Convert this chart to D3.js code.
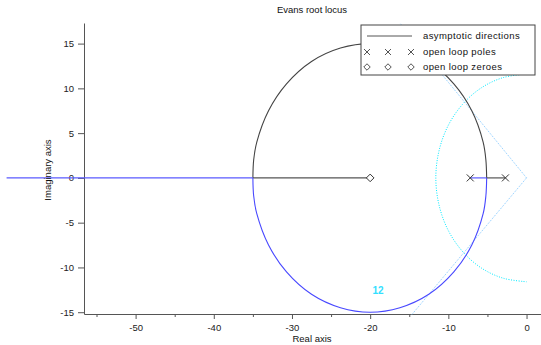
<!DOCTYPE html>
<html>
<head>
<meta charset="utf-8">
<script src="https://cdnjs.cloudflare.com/ajax/libs/d3/7.8.5/d3.min.js"></script>
<style>
  body { margin: 0; background: #fff; }
  text { font-family: "Liberation Sans", Arial, sans-serif; }
</style>
</head>
<body>
<div id="chart"></div>
<script>

var width = 541, height = 345;

// open loop poles / zeroes (real, imag)
var poles = [[-7.2, 0], [-2.7, 0]];
var zeroes = [[-20, 0]];

// branch 1 (black): pole -> break away, upper arc, break in -> zero
var upperArc = [[-5.1, 0], [-5.2, 2], [-5.55, 4], [-7, 7.5], [-9.3, 10.5], [-12.5, 13], [-16.2, 14.5], [-20, 15],
  [-23.8, 14.5], [-27.5, 13], [-30.7, 10.5], [-33, 7.5], [-34.5, 4], [-34.9, 2], [-35, 0]];
// branch 2 (blue): pole -> break away, lower arc, break in -> far left
var lowerArc = [[-5.1, 0], [-5.2, -2], [-5.55, -4], [-7, -7.5], [-9.3, -10.5], [-12.5, -13], [-16.2, -14.5], [-20, -15],
  [-23.8, -14.5], [-27.5, -13], [-30.7, -10.5], [-33, -7.5], [-34.5, -4], [-34.9, -2], [-35, 0]];
var branch1Real = [[[-2.7, 0], [-5.1, 0]], [[-35, 0], [-20, 0]]];
var branch2Real = [[[-7.2, 0], [-5.1, 0]], [[-35, 0], [-66.5, 0]]];

// grid: natural frequency half circle and damping lines
var wnCircle = [[0, 11.6], [-3, 11.2], [-5.8, 10.05], [-8.2, 8.2], [-10.05, 5.8], [-11.2, 3], [-11.6, 0],
  [-11.2, -3], [-10.05, -5.8], [-8.2, -8.2], [-5.8, -10.05], [-3, -11.2], [0, -11.6]];
var dampLines = [[[0, 0], [-16.2, 17.3]], [[0, 0], [-14.7, -15.3]]];
var wnLabel = {text: "12", x: -19, y: -12.6};

var xTicks = [-50, -40, -30, -20, -10, 0];
var xMinor = [-55, -45, -35, -25, -15, -5];
var yTicks = [-15, -10, -5, 0, 5, 10, 15];

var legendItems = ["asymptotic directions", "open loop poles", "open loop zeroes"];

var svg = d3.select("#chart").append("svg")
  .attr("width", width)
  .attr("height", height);

var x = d3.scaleLinear().domain([-56.6, 1.85]).range([84, 541]);
var y = d3.scaleLinear().domain([-15.2, 17.3]).range([314, 23]);

var line = d3.line().x(function(d) { return x(d[0]); }).y(function(d) { return y(d[1]); });
var curve = d3.line().curve(d3.curveCatmullRom).x(function(d) { return x(d[0]); }).y(function(d) { return y(d[1]); });
var fmt = function(d) { return String(d); };

// axes
var xAxis = svg.append("g").attr("transform", "translate(0," + y(-15.2) + ")")
  .call(d3.axisBottom(x).tickValues(xTicks).tickSize(5).tickSizeOuter(0).tickFormat(fmt));
svg.append("g").attr("transform", "translate(0," + y(-15.2) + ")")
  .call(d3.axisBottom(x).tickValues(xMinor).tickSize(3).tickSizeOuter(0).tickFormat(""))
  .select(".domain").remove();
var yAxis = svg.append("g").attr("transform", "translate(" + x(-56.6) + ",0)")
  .call(d3.axisLeft(y).tickValues(yTicks).tickSize(6).tickSizeOuter(0).tickFormat(fmt));

svg.selectAll(".domain, .tick line").attr("stroke", "#555");
svg.selectAll(".tick text").attr("fill", "#222").style("font-size", "9.5px");
xAxis.selectAll(".tick text").attr("dy", "0.9em");
yAxis.selectAll(".tick text").attr("dx", "-1px");

// grid
svg.append("path").datum(wnCircle).attr("d", curve)
  .attr("fill", "none").attr("stroke", "#00eaff").attr("stroke-width", 1).attr("stroke-dasharray", "1,1.5");
dampLines.forEach(function(l) {
  svg.append("path").datum(l).attr("d", line)
    .attr("fill", "none").attr("stroke", "#80c8ff").attr("stroke-width", 1).attr("stroke-dasharray", "1,1.2");
});
svg.append("text").attr("x", x(wnLabel.x)).attr("y", y(wnLabel.y)).attr("dy", "0.35em")
  .attr("text-anchor", "middle").attr("fill", "#33e0ff").style("font-size", "10px").style("font-weight", "bold")
  .text(wnLabel.text);

// branches
branch1Real.forEach(function(s) {
  svg.append("path").datum(s).attr("d", line).attr("fill", "none").attr("stroke", "#555").attr("stroke-width", 1.2);
});
svg.append("path").datum(upperArc).attr("d", curve).attr("fill", "none").attr("stroke", "#444").attr("stroke-width", 1.1);
branch2Real.forEach(function(s) {
  svg.append("path").datum(s).attr("d", line).attr("fill", "none").attr("stroke", "#5a5aff").attr("stroke-width", 1.2);
});
svg.append("path").datum(lowerArc).attr("d", curve).attr("fill", "none").attr("stroke", "#4848ff").attr("stroke-width", 1.1);

// markers
var cross = "M-3.5,-3.5L3.5,3.5M-3.5,3.5L3.5,-3.5";
var diamond = "M0,-3.8L3.8,0L0,3.8L-3.8,0Z";
svg.selectAll(".pole").data(poles).enter().append("path").attr("class", "pole")
  .attr("d", cross).attr("transform", function(d) { return "translate(" + x(d[0]) + "," + y(d[1]) + ")"; })
  .attr("stroke", "#333").attr("fill", "none");
svg.selectAll(".zero").data(zeroes).enter().append("path").attr("class", "zero")
  .attr("d", diamond).attr("transform", function(d) { return "translate(" + x(d[0]) + "," + y(d[1]) + ")"; })
  .attr("stroke", "#333").attr("fill", "#fff");

// titles
svg.append("text").attr("x", 312).attr("y", 13).attr("text-anchor", "middle")
  .style("font-size", "9.5px").attr("fill", "#111").text("Evans root locus");
svg.append("text").attr("x", 312).attr("y", 342).attr("text-anchor", "middle")
  .style("font-size", "9.5px").attr("fill", "#111").text("Real axis");
svg.append("text").attr("transform", "translate(51,170) rotate(-90)").attr("text-anchor", "middle")
  .style("font-size", "9.5px").attr("fill", "#111").text("Imaginary axis");

// legend
var lg = svg.append("g").attr("transform", "translate(361,25)");
lg.append("rect").attr("width", 174).attr("height", 50).attr("fill", "#fff").attr("stroke", "#444");
var rows = [11, 27, 42];
var mx = [6, 27, 50];
lg.append("line").attr("x1", 6).attr("x2", 51).attr("y1", rows[0]).attr("y2", rows[0]).attr("stroke", "#555");
mx.forEach(function(m) {
  lg.append("path").attr("d", cross).attr("transform", "translate(" + m + "," + rows[1] + ") scale(0.85)")
    .attr("stroke", "#333").attr("fill", "none");
  lg.append("path").attr("d", diamond).attr("transform", "translate(" + m + "," + rows[2] + ") scale(0.85)")
    .attr("stroke", "#333").attr("fill", "#fff");
});
legendItems.forEach(function(t, i) {
  lg.append("text").attr("x", 62).attr("y", rows[i]).attr("dy", "0.35em")
    .style("font-size", "9.5px").style("letter-spacing", "0.4px").attr("fill", "#111").text(t);
});
</script>
</body>
</html>
